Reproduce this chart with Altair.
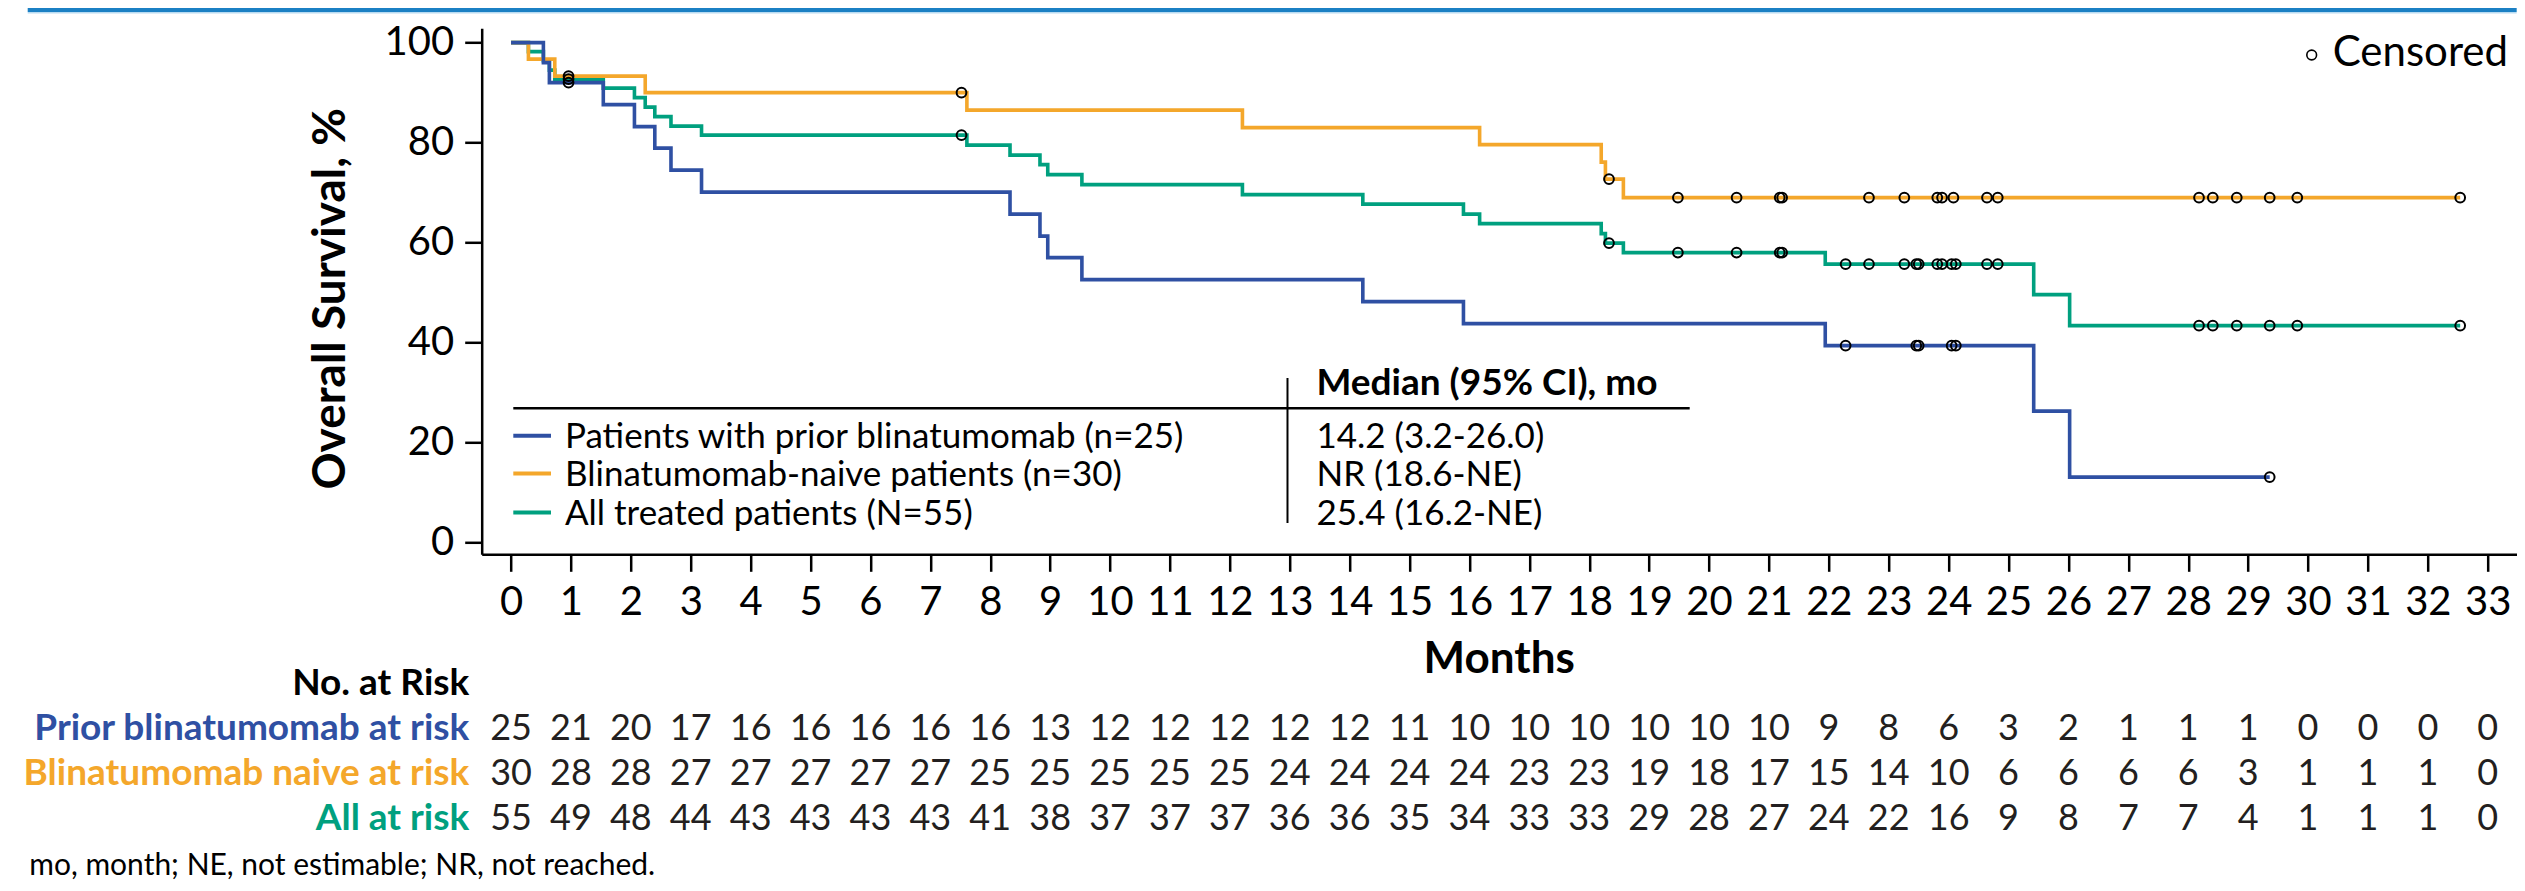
import altair as alt
import pandas as pd

FONT = "Lato"
BLUE = "#2f50a3"
ORANGE = "#f4a72b"
GREEN = "#00a07f"
TXT = "#231f20"

# ---------------- data ----------------
months = list(range(34))
prior_risk = [25, 21, 20, 17, 16, 16, 16, 16, 16, 13, 12, 12, 12, 12, 12, 11, 10,
              10, 10, 10, 10, 10, 9, 8, 6, 3, 2, 1, 1, 1, 0, 0, 0, 0]
naive_risk = [30, 28, 28, 27, 27, 27, 27, 27, 25, 25, 25, 25, 25, 24, 24, 24, 24,
              23, 23, 19, 18, 17, 15, 14, 10, 6, 6, 6, 6, 3, 1, 1, 1, 0]
all_risk = [55, 49, 48, 44, 43, 43, 43, 43, 41, 38, 37, 37, 37, 36, 36, 35, 34,
            33, 33, 29, 28, 27, 24, 22, 16, 9, 8, 7, 7, 4, 1, 1, 1, 0]

blue_t = [0, 0.54, 0.64, 1.54, 2.06, 2.40, 2.67, 3.18, 8.33, 8.83, 8.96, 9.53,
          14.22, 15.90, 21.94, 25.42, 26.02, 29.36]
blue_s = [100, 96.0, 92.0, 87.6, 83.2, 78.9, 74.5, 70.1, 65.7, 61.3, 57.0, 52.6,
          48.2, 43.8, 39.4, 26.3, 13.1, 13.1]

orange_t = [0, 0.29, 0.73, 2.24, 7.61, 12.21, 16.17, 18.20, 18.27, 18.57, 32.54]
orange_s = [100, 96.7, 93.3, 90.0, 86.5, 83.0, 79.6, 76.1, 72.7, 69.0, 69.0]

green_t = [0, 0.29, 0.54, 0.64, 0.73, 1.54, 2.06, 2.24, 2.40, 2.67, 3.18, 7.61,
           8.33, 8.83, 8.96, 9.53, 12.21, 14.22, 15.90, 16.17, 18.20, 18.27, 18.57,
           21.94, 25.42, 26.02, 32.54]
green_s = [100, 98.2, 96.4, 94.5, 92.7, 90.9, 89.0, 87.1, 85.2, 83.3, 81.5, 79.5,
           77.5, 75.6, 73.6, 71.6, 69.6, 67.7, 65.7, 63.8, 61.8, 59.9, 58.0,
           55.7, 49.6, 43.4, 43.4]

blue_cens = [0.96, 22.28, 23.46, 23.50, 24.05, 24.12, 29.36]
orange_cens = [0.96, 7.52, 18.33, 19.48, 20.46, 21.18, 21.22, 22.67, 23.26, 23.81,
               23.89, 24.08, 24.64, 24.82, 28.18, 28.41, 28.81, 29.36, 29.82, 32.54]
green_cens = [0.96, 7.52, 18.33, 19.48, 20.46, 21.18, 21.22, 22.28, 22.67, 23.26,
              23.46, 23.50, 23.81, 23.89, 24.05, 24.12, 24.64, 24.82, 28.18, 28.41,
              28.81, 29.36, 29.82, 32.54]

legend_labels = ["Patients with prior blinatumomab (n=25)",
                 "Blinatumomab-naive patients (n=30)",
                 "All treated patients (N=55)"]
median_labels = ["14.2 (3.2-26.0)", "NR (18.6-NE)", "25.4 (16.2-NE)"]
risk_labels = ["Prior blinatumomab at risk", "Blinatumomab naive at risk", "All at risk"]
footnote = "mo, month; NE, not estimable; NR, not reached."

# ---------------- layout ----------------
W, H = 2035, 526
PX_PER_MONTH = 59.9
X0 = -0.49
xscale = alt.Scale(domain=[X0, X0 + W / PX_PER_MONTH], nice=False, zero=False)
yscale = alt.Scale(domain=[-2.34, -2.34 + H / 5.0], nice=False, zero=False)

xaxis = alt.Axis(values=months, title="Months", titleFont=FONT, titleFontSize=44,
                 titleFontWeight="bold", titleColor="black", titleAlign="center",
                 titleBaseline="alphabetic", titleX=1017, titleY=118,
                 labelFont=FONT, labelFontSize=40, labelColor="black", labelPadding=11,
                 labelOverlap=False, labelFlush=False, tickSize=17, tickWidth=2.5,
                 tickColor="black", domainColor="black", domainWidth=2.5, grid=False)
yaxis = alt.Axis(values=[0, 20, 40, 60, 80, 100], title="Overall Survival, %",
                 titleFont=FONT, titleFontSize=46, titleFontWeight="bold",
                 titleColor="black", titleAngle=270, titleAlign="center",
                 titleBaseline="alphabetic", titleX=-137, titleY=270,
                 labelFont=FONT, labelFontSize=40, labelColor="black", labelPadding=11,
                 tickSize=17, tickWidth=2.5, tickColor="black", domainColor="black",
                 domainWidth=2.5, grid=False)

X = alt.X("t:Q", scale=xscale, axis=xaxis)
Y = alt.Y("s:Q", scale=yscale, axis=yaxis)

ONE = pd.DataFrame({"k": [0]})


def km_line(ts, ss, color):
    df = pd.DataFrame({"t": ts, "s": ss})
    return alt.Chart(df).mark_line(interpolate="step-after", color=color,
                                   strokeWidth=3.6).encode(x=X, y=Y, order="t:Q")


def step_at(ts, ss, t):
    v = ss[0]
    for a, b in zip(ts, ss):
        if a <= t:
            v = b
    return v


def cens(ts, ss, cts):
    df = pd.DataFrame({"t": cts, "s": [step_at(ts, ss, c) for c in cts]})
    return alt.Chart(df).mark_point(shape="circle", filled=False, stroke="black",
                                    strokeWidth=2, size=95, opacity=1).encode(x=X, y=Y)


def txt(x, y, s, size, color="black", weight="normal", align="left"):
    return alt.Chart(ONE).mark_text(font=FONT, fontSize=size, fontWeight=weight,
                                    color=color, align=align, baseline="alphabetic").encode(
        x=alt.value(x), y=alt.value(y), text=alt.value(s))


def rule(x, x2, y, y2, color="black", width=2.5):
    return alt.Chart(ONE).mark_rule(color=color, strokeWidth=width).encode(
        x=alt.value(x), x2=alt.value(x2), y=alt.value(y), y2=alt.value(y2))


def risk_row(vals, y):
    df = pd.DataFrame({"t": months, "n": [str(v) for v in vals]})
    return alt.Chart(df).mark_text(font=FONT, fontSize=36, color=TXT, align="center",
                                   baseline="alphabetic").encode(
        x=X, y=alt.value(y), text="n:N")


layers = [
    km_line(green_t, green_s, GREEN),
    km_line(orange_t, orange_s, ORANGE),
    km_line(blue_t, blue_s, BLUE),
    cens(green_t, green_s, green_cens),
    cens(orange_t, orange_s, orange_cens),
    cens(blue_t, blue_s, blue_cens),
]

# top banner
layers.append(rule(-454, W, -18.3, -18.3, "#1b80c4", 4))
layers.append(rule(-454, W, -15.6, -15.6, "#b9dbf1", 1.5))

# legend table
layers.append(rule(31.6, 1208, 380, 380, "black", 2.5))
layers.append(rule(805.8, 805.8, 349.7, 494.7, "black", 2))
layer_colors = [BLUE, ORANGE, GREEN]
legend_base = [420, 457.7, 496.7]
for lab, med, col, yb in zip(legend_labels, median_labels, layer_colors, legend_base):
    layers.append(rule(31.6, 69.3, yb - 12.5, yb - 12.5, col, 4))
    layers.append(txt(83.3, yb, lab, 35, "black"))
    layers.append(txt(834.8, yb, med, 35, "black"))
layers.append(txt(834.8, 366.3, "Median (95% CI), mo", 37, "black", "bold"))

# censored legend
layers.append(alt.Chart(ONE).mark_point(shape="circle", filled=False, stroke="black",
                                        strokeWidth=1.6, size=95, opacity=1).encode(
    x=alt.value(1830), y=alt.value(26.7)))
layers.append(txt(1851, 37.4, "Censored", 42, "black"))

# number at risk table
layers.append(txt(-12.4, 666.7, "No. at Risk", 37, "black", "bold", "right"))
risk_base = [711.7, 756.7, 801.7]
for lab, col, vals, yb in zip(risk_labels, layer_colors,
                              [prior_risk, naive_risk, all_risk], risk_base):
    layers.append(txt(-12.4, yb, lab, 37, col, "bold", "right"))
    layers.append(risk_row(vals, yb))

layers.append(txt(-452.4, 847, footnote, 30, "black"))

chart = alt.layer(*layers).properties(
    width=W, height=H,
    autosize=alt.AutoSizeParams(type="none"),
    padding={"left": 473.7, "top": 20.3, "right": 0, "bottom": 328.7},
    background="white",
).configure_view(stroke=None)

chart.save("out.html", embed_options={"renderer": "svg", "actions": False})
